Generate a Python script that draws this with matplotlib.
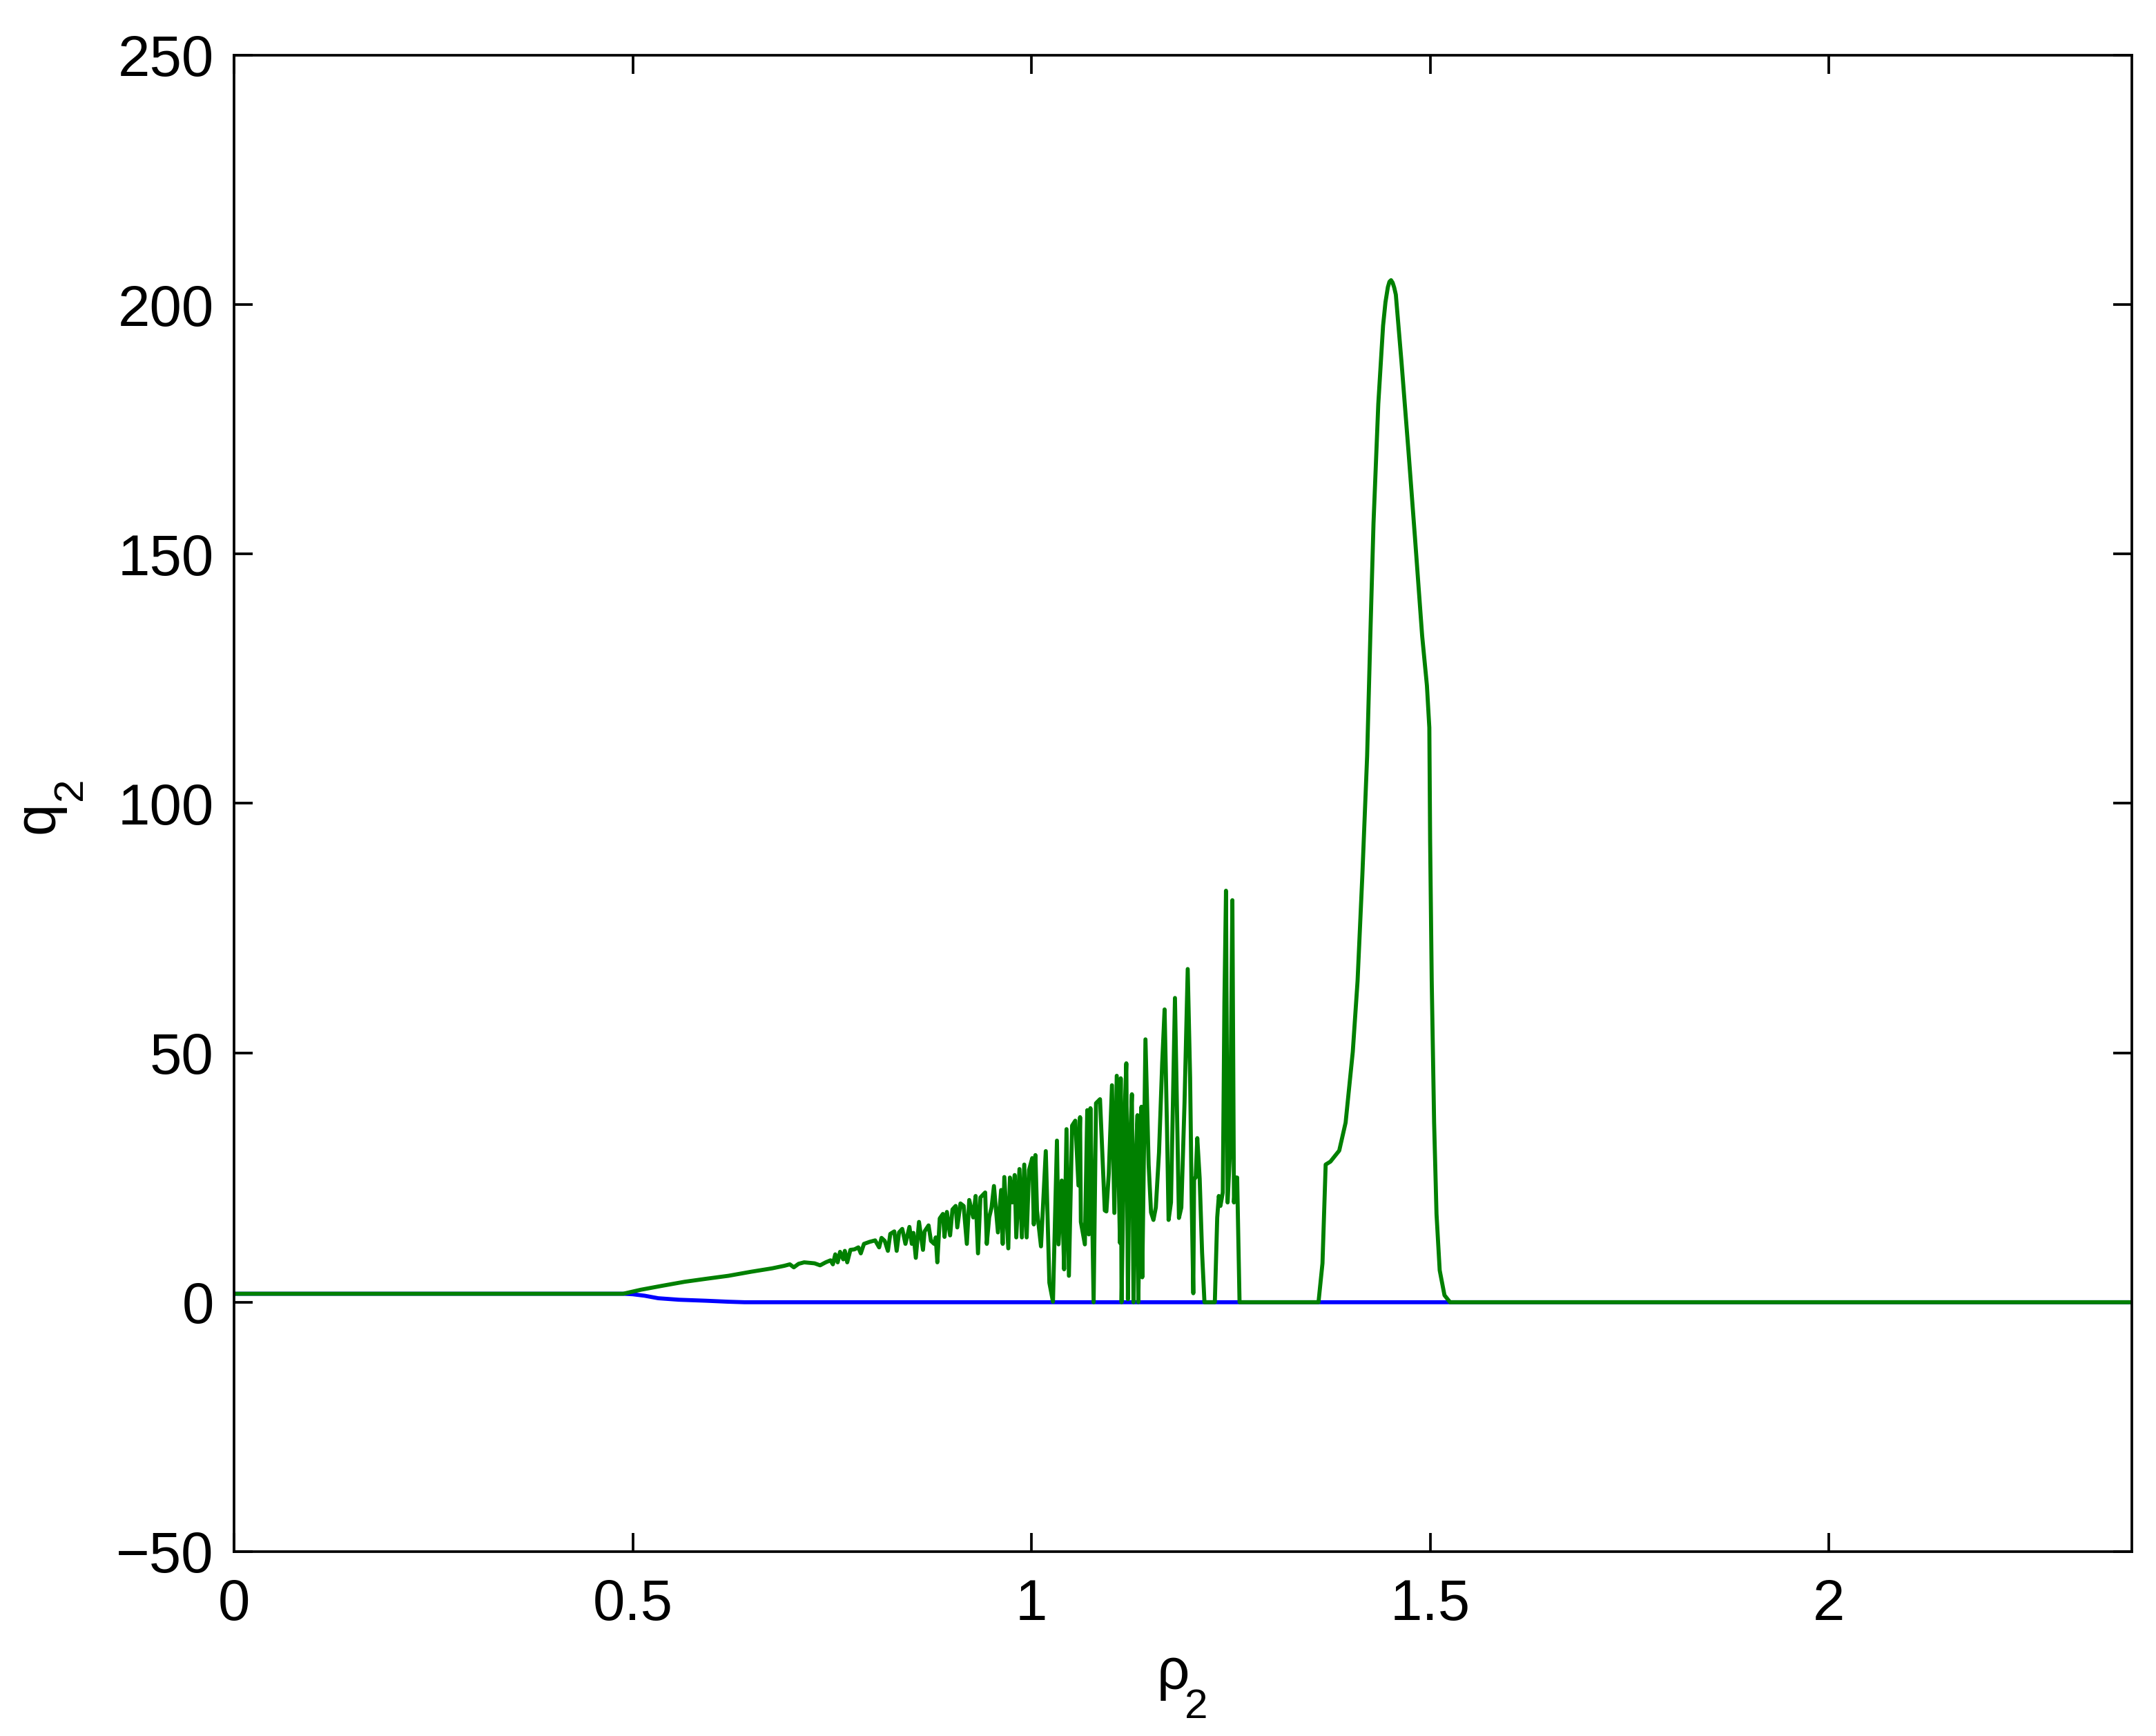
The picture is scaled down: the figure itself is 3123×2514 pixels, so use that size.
import matplotlib
matplotlib.use("Agg")
import matplotlib.pyplot as plt

plt.rcParams['font.family'] = ['Liberation Sans', 'DejaVu Sans']
plt.rcParams['mathtext.default'] = 'regular'

# blue curve
rho_blue = [0.0, 0.488, 0.500, 0.515, 0.532, 0.558, 0.592, 0.620, 0.640, 2.38]
q_blue = [1.7, 1.7, 1.6, 1.3, 0.8, 0.5, 0.3, 0.1, 0.0, 0.0]

# green curve
rho_green = [
    0.0, 0.488, 0.510, 0.537, 0.565, 0.592, 0.620, 0.648, 0.675, 0.690,
    0.697, 0.702, 0.708, 0.715, 0.722, 0.728, 0.735, 0.742, 0.748, 0.751,
    0.754, 0.757, 0.760, 0.764, 0.766, 0.769, 0.773, 0.778, 0.783, 0.786,
    0.790, 0.797, 0.804, 0.809, 0.812, 0.816, 0.820, 0.823, 0.828, 0.831,
    0.834, 0.838, 0.842, 0.847, 0.850, 0.852, 0.855, 0.859, 0.864, 0.866,
    0.871, 0.874, 0.878, 0.880, 0.882, 0.885, 0.889, 0.891, 0.894, 0.898,
    0.901, 0.905, 0.907, 0.911, 0.915, 0.919, 0.922, 0.927, 0.930, 0.933,
    0.936, 0.942, 0.944, 0.947, 0.950, 0.953, 0.958, 0.962, 0.964, 0.966,
    0.971, 0.973, 0.976, 0.979, 0.981, 0.985, 0.988, 0.991, 0.994, 0.997,
    1.001, 1.003, 1.005, 1.007, 1.012, 1.018, 1.0225, 1.027, 1.032, 1.034,
    1.038, 1.041, 1.044, 1.047, 1.051, 1.055, 1.059, 1.061, 1.062, 1.067,
    1.070, 1.072, 1.074, 1.078, 1.081, 1.086, 1.092, 1.094, 1.097, 1.101,
    1.104, 1.107, 1.111, 1.112, 1.113, 1.117, 1.119, 1.121, 1.123, 1.126,
    1.128, 1.131, 1.133, 1.134, 1.138, 1.139, 1.143, 1.147, 1.150, 1.153,
    1.156, 1.160, 1.164, 1.167, 1.170, 1.172, 1.175, 1.178, 1.180, 1.183,
    1.185, 1.188, 1.192, 1.196, 1.199, 1.201, 1.203, 1.204, 1.206, 1.208,
    1.211, 1.214, 1.217, 1.230, 1.233, 1.235, 1.237, 1.240, 1.242, 1.244,
    1.246, 1.249, 1.252, 1.254, 1.256, 1.258, 1.261, 1.360, 1.365, 1.369,
    1.375, 1.386, 1.394, 1.403, 1.409, 1.415, 1.421, 1.425, 1.429, 1.435,
    1.441, 1.444, 1.447, 1.449, 1.451, 1.453, 1.455, 1.457, 1.464, 1.473,
    1.481, 1.490, 1.496, 1.499, 1.500, 1.502, 1.505, 1.508, 1.512, 1.518,
    1.525, 2.38,
]
q_green = [
    1.7, 1.7, 2.5, 3.3, 4.1, 4.7, 5.3, 6.1, 6.8, 7.3,
    7.6, 7.0, 7.7, 8.0, 7.9, 7.8, 7.4, 8.0, 8.4, 7.6,
    9.6, 8.0, 10.1, 8.6, 10.3, 8.0, 10.5, 10.6, 11.0, 9.8,
    11.7, 12.1, 12.4, 11.0, 12.9, 12.3, 10.3, 13.7, 14.2, 10.3,
    14.0, 14.7, 11.7, 15.1, 11.7, 13.9, 8.9, 16.1, 10.5, 14.2,
    15.4, 12.3, 11.7, 13.0, 8.0, 16.8, 17.7, 13.1, 18.1, 13.4,
    18.6, 19.3, 15.0, 19.8, 19.3, 11.7, 20.5, 17.0, 21.3, 9.8,
    21.0, 22.0, 11.7, 17.0, 19.0, 23.3, 14.0, 22.5, 11.7, 25.1,
    10.8, 25.0, 20.0, 25.5, 13.0, 26.7, 13.0, 27.6, 13.0, 26.5,
    28.9, 15.6, 29.5, 18.4, 11.2, 30.3, 3.9, 0.1, 32.4, 11.6,
    24.4, 6.6, 34.7, 5.3, 35.4, 36.4, 23.4, 37.1, 16.1, 11.6,
    38.5, 13.6, 38.9, 0.0, 39.9, 40.7, 18.4, 18.2, 25.8, 43.5,
    17.9, 45.4, 11.9, 44.9, 0.0, 38.6, 47.9, 0.6, 29.5, 41.7,
    0.0, 29.5, 37.5, 0.0, 39.2, 5.0, 52.7, 27.6, 18.0, 16.5,
    19.0, 30.0, 48.0, 58.7, 35.0, 16.5, 20.0, 45.0, 61.0, 35.0,
    16.9, 19.0, 40.0, 66.8, 45.0, 20.0, 1.8, 24.8, 25.0, 32.9,
    24.8, 10.0, 0.0, 0.0, 17.0, 21.3, 19.3, 22.0, 60.0, 82.5,
    20.0, 30.0, 80.6, 20.0, 25.0, 25.0, 0.0, 0.0, 7.8, 27.6,
    28.2, 30.4, 36.0, 50.2, 64.4, 85.6, 109.5, 133.6, 156.2, 180.1,
    195.8, 200.5, 203.5, 204.6, 204.9, 204.4, 203.4, 202.0, 188.7, 170.3,
    153.3, 133.6, 123.6, 115.2, 92.6, 64.4, 36.0, 17.7, 6.4, 1.4,
    0.0, 0.0,
]

x_ticks = [0, 0.5, 1, 1.5, 2]
x_ticklabels = ['0', '0.5', '1', '1.5', '2']
y_ticks = [-50, 0, 50, 100, 150, 200, 250]

W, H = 3123, 2514
fig = plt.figure(figsize=(W / 300, H / 300), dpi=300)
ax = fig.add_axes([339 / W, 1 - 2247 / H, (3088 - 339) / W, (2247 - 80) / H])

ax.plot(rho_blue, q_blue, color=(0, 0, 1), lw=1.4)
ax.plot(rho_green, q_green, color=(0, 0.5, 0), lw=1.4)

ax.set_xlim(0, 2.38)
ax.set_ylim(-50, 250)
ax.set_xticks(x_ticks)
ax.set_xticklabels(x_ticklabels)
ax.set_yticks(y_ticks)

for s in ax.spines.values():
    s.set_linewidth(0.9)
ax.tick_params(direction='in', length=6.4, width=0.9, top=True, right=True,
               labelsize=20)
ax.tick_params(axis='x', pad=9)
ax.tick_params(axis='y', pad=7)

# axis labels in MATLAB style: subscript dropped well below the baseline
fig.text(1676 / W, 1 - 2446 / H, 'ρ', fontsize=20, ha='left', va='baseline')
fig.text(1716 / W, 1 - 2488 / H, '2', fontsize=14.5, ha='left', va='baseline')
fig.text(78 / W, 1 - 1207 / H, 'q', fontsize=20, rotation=90,
         rotation_mode='anchor', ha='left', va='baseline')
fig.text(118 / W, 1 - 1159 / H, '2', fontsize=14.5, rotation=90,
         rotation_mode='anchor', ha='left', va='baseline')

fig.savefig('out.png', dpi=300)
